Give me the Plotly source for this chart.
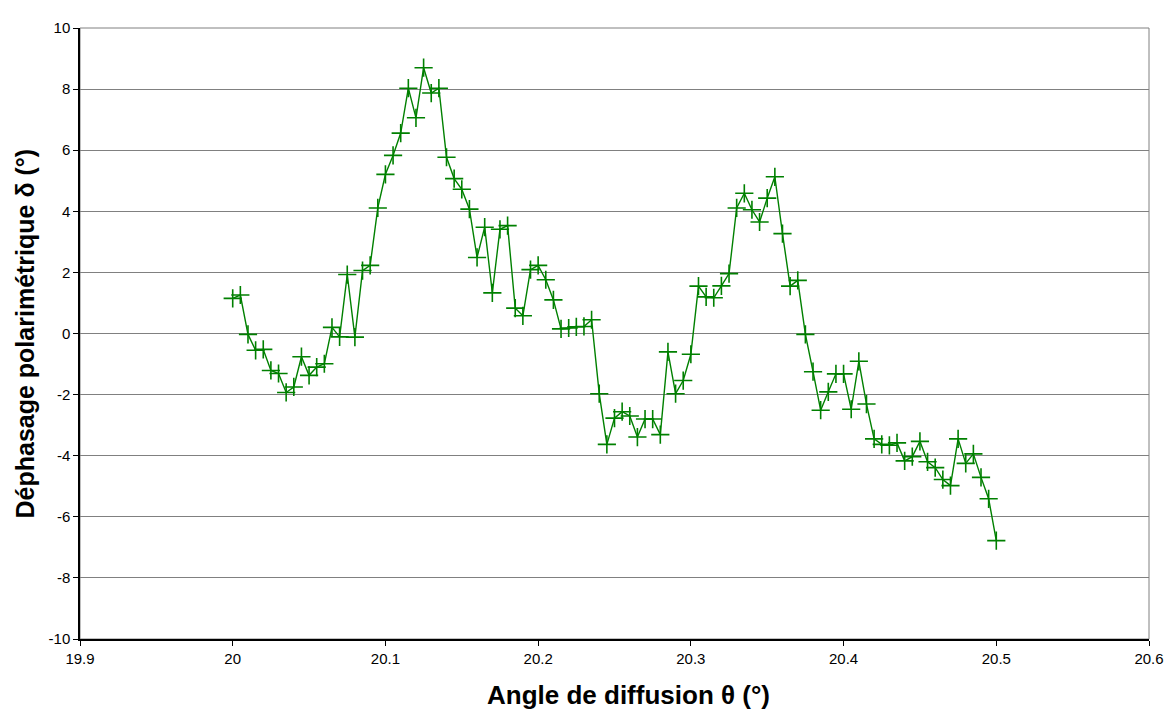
import plotly.graph_objects as go

# Scattering angle theta (deg), 20.000 .. 20.500 step 0.005
angle = [round(20.0 + 0.005 * i, 3) for i in range(101)]

# Polarimetric phase shift delta (deg)
delta = [
    1.15, 1.26, -0.03, -0.55, -0.52, -1.21, -1.31, -1.93, -1.75, -0.76,
    -1.37, -1.10, -0.99, 0.20, -0.11, 1.93, -0.12, 2.06, 2.23, 4.11,
    5.21, 5.83, 6.56, 8.03, 7.06, 8.70, 7.87, 8.03, 5.77, 5.07,
    4.72, 4.07, 2.49, 3.48, 1.33, 3.41, 3.53, 0.83, 0.58, 2.09,
    2.23, 1.76, 1.10, 0.15, 0.18, 0.22, 0.23, 0.45, -1.97, -3.63,
    -2.77, -2.56, -2.70, -3.39, -2.80, -2.80, -3.31, -0.60, -1.97, -1.54,
    -0.68, 1.55, 1.20, 1.17, 1.56, 1.96, 4.11, 4.59, 4.05, 3.65,
    4.43, 5.13, 3.27, 1.55, 1.74, -0.03, -1.25, -2.51, -1.91, -1.32,
    -1.32, -2.48, -0.91, -2.31, -3.45, -3.63, -3.66, -3.58, -4.17, -4.03,
    -3.53, -4.20, -4.39, -4.78, -4.98, -3.45, -4.25, -3.94, -4.71, -5.41,
    -6.78,
]

x_ticks = [19.9, 20.0, 20.1, 20.2, 20.3, 20.4, 20.5, 20.6]
x_ticklabels = ["19.9", "20", "20.1", "20.2", "20.3", "20.4", "20.5", "20.6"]
y_ticks = [-10, -8, -6, -4, -2, 0, 2, 4, 6, 8, 10]
y_ticklabels = ["-10", "-8", "-6", "-4", "-2", "0", "2", "4", "6", "8", "10"]

x_title = "Angle de diffusion θ (°)"
y_title = "Déphasage polarimétrique δ (°)"

GREEN = "#008000"
FONT = "Liberation Sans, Arial, sans-serif"

fig = go.Figure()
fig.add_trace(go.Scatter(
    x=angle, y=delta, mode="lines+markers",
    line=dict(color=GREEN, width=1.4),
    marker=dict(symbol="cross-thin", size=13,
                line=dict(color=GREEN, width=1.6), color=GREEN),
    showlegend=False,
))

fig.update_layout(
    width=1167, height=703,
    margin=dict(l=72, r=24, t=11, b=72),
    paper_bgcolor="white", plot_bgcolor="white",
    font=dict(family=FONT, size=15, color="black"),
    xaxis=dict(
        range=[19.9, 20.6], tickvals=x_ticks, ticktext=x_ticklabels,
        showgrid=False, zeroline=False,
        showline=True, linecolor="black", linewidth=1.5,
        ticks="outside", ticklen=5, tickcolor="black",
    ),
    yaxis=dict(
        range=[-10, 10], tickvals=y_ticks, ticktext=y_ticklabels,
        showgrid=True, gridcolor="#808080", gridwidth=1,
        zeroline=False,
        showline=True, linecolor="black", linewidth=1.5,
        ticks="outside", ticklen=5, tickcolor="black",
    ),
)

fig.add_annotation(text="<b>" + x_title + "</b>", xref="paper", yref="paper",
                   x=0.5135, y=0, xanchor="center", yanchor="middle",
                   yshift=-56, showarrow=False,
                   font=dict(family=FONT, size=26, color="black"))
fig.add_annotation(text="<b>" + y_title + "</b>", xref="paper", yref="paper",
                   x=0, y=0.5, xanchor="center", yanchor="middle",
                   xshift=-56, textangle=-90, showarrow=False,
                   font=dict(family=FONT, size=25, color="black"))

# plot-area frame (top and right sides)
fig.add_shape(type="rect", xref="paper", yref="paper", x0=0, y0=0, x1=1, y1=1,
              line=dict(color="#808080", width=1), layer="below")

fig.write_html("out.html")
